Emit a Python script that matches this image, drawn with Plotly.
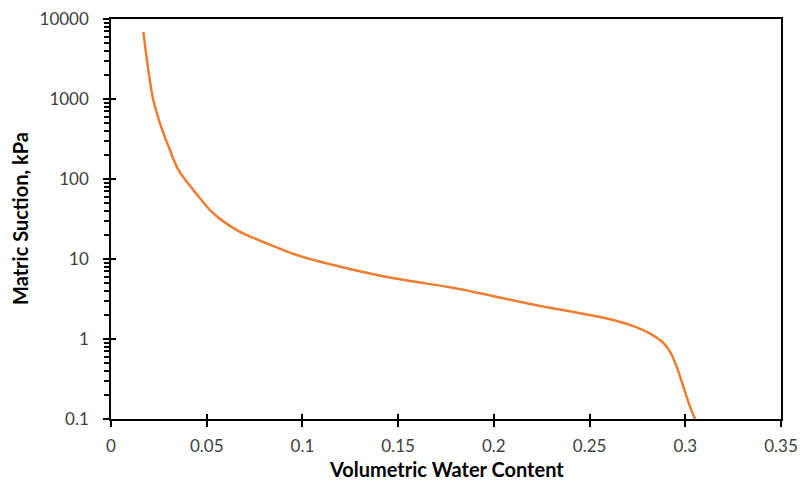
import plotly.graph_objects as go

vwc = [0.0169, 0.0195, 0.0221, 0.0256, 0.0308, 0.0352, 0.0430, 0.0465, 0.0534,
       0.0657, 0.0813, 0.0970, 0.1161, 0.1336, 0.1510, 0.1771, 0.1928, 0.2189,
       0.2450, 0.2624, 0.2746, 0.2816, 0.2884, 0.2922, 0.2955, 0.2990,
       0.3025, 0.3051]
suction = [6900, 2300, 970, 497, 230, 130, 72.9, 57.4, 37.3,
           23.0, 15.7, 11.2, 8.41, 6.74, 5.57, 4.43, 3.73, 2.74,
           2.10, 1.73, 1.40, 1.17, 0.90, 0.68, 0.451, 0.253,
           0.1425, 0.1]

y_tickvals = [0.1, 1, 10, 100, 1000, 10000]
y_ticktext = ["0.1", "1", "10", "100", "1000", "10000"]
x_tickvals = [0, 0.05, 0.1, 0.15, 0.2, 0.25, 0.3, 0.35]
x_ticktext = ["0", "0.05", "0.1", "0.15", "0.2", "0.25", "0.3", "0.35"]
y_minor = [m * d for d in [0.1, 1, 10, 100, 1000] for m in range(2, 10)]

x_title = "Volumetric Water Content"
y_title = "Matric Suction, kPa"

font_family = "Lato, 'Open Sans', sans-serif"

fig = go.Figure()
fig.add_trace(go.Scatter(x=vwc, y=suction, mode="lines",
                         line=dict(color="#ED7D31", width=2.5, shape="spline", smoothing=1.0),
                         showlegend=False, hoverinfo="skip"))
# invisible trace for overlay axes (inside half of crossing ticks)
fig.add_trace(go.Scatter(x=[0], y=[1], xaxis="x2", yaxis="y2", mode="markers",
                         marker=dict(opacity=0), showlegend=False, hoverinfo="skip"))

fig.update_layout(
    width=800, height=484,
    margin=dict(l=111, r=19, t=19, b=65),
    paper_bgcolor="white", plot_bgcolor="white",
    font=dict(family=font_family, color="#404040", size=17),
    xaxis=dict(range=[0, 0.35], tickmode="array", tickvals=x_tickvals, ticktext=x_ticktext,
               ticks="outside", ticklen=6, tickwidth=1.5, tickcolor="black",
               ticklabelstandoff=5, automargin=False,
               showline=True, linecolor="black", linewidth=1.5, mirror=True,
               showgrid=False, zeroline=False,
               tickfont=dict(size=17, color="#404040")),
    yaxis=dict(type="log", range=[-1, 4], tickmode="array", tickvals=y_tickvals, ticktext=y_ticktext,
               ticks="outside", ticklen=6, tickwidth=1.5, tickcolor="black",
               ticklabelstandoff=11, automargin=False,
               minor=dict(tickmode="array", tickvals=y_minor, ticks="outside", ticklen=5,
                          tickwidth=1.5, tickcolor="black", showgrid=False),
               showline=True, linecolor="black", linewidth=1.5, mirror=True,
               showgrid=False, zeroline=False,
               tickfont=dict(size=17, color="#404040")),
    xaxis2=dict(overlaying="x", anchor="y", side="bottom", range=[0, 0.35], tickmode="array",
                tickvals=x_tickvals, ticks="inside", ticklen=5, tickwidth=1.5, tickcolor="black",
                showticklabels=False, showline=False, showgrid=False, zeroline=False, automargin=False),
    yaxis2=dict(overlaying="y", anchor="x", side="left", type="log", range=[-1, 4], tickmode="array",
                tickvals=y_tickvals, ticks="inside", ticklen=5, tickwidth=1.5, tickcolor="black",
                showticklabels=False, showline=False, showgrid=False, zeroline=False, automargin=False),
    annotations=[
        dict(text="<b>" + x_title + "</b>", xref="paper", yref="paper", x=0.5, y=0,
             xanchor="center", yanchor="middle", yshift=-50, showarrow=False,
             font=dict(size=20, color="black")),
        dict(text="<b>" + y_title + "</b>", xref="paper", yref="paper", x=0, y=0.5,
             xanchor="center", yanchor="middle", xshift=-91, textangle=-90, showarrow=False,
             font=dict(size=20, color="black")),
    ],
)

fig.write_html("out.html", config={"displayModeBar": False},
               post_script="document.body.style.margin='0';document.body.style.overflow='hidden';")
